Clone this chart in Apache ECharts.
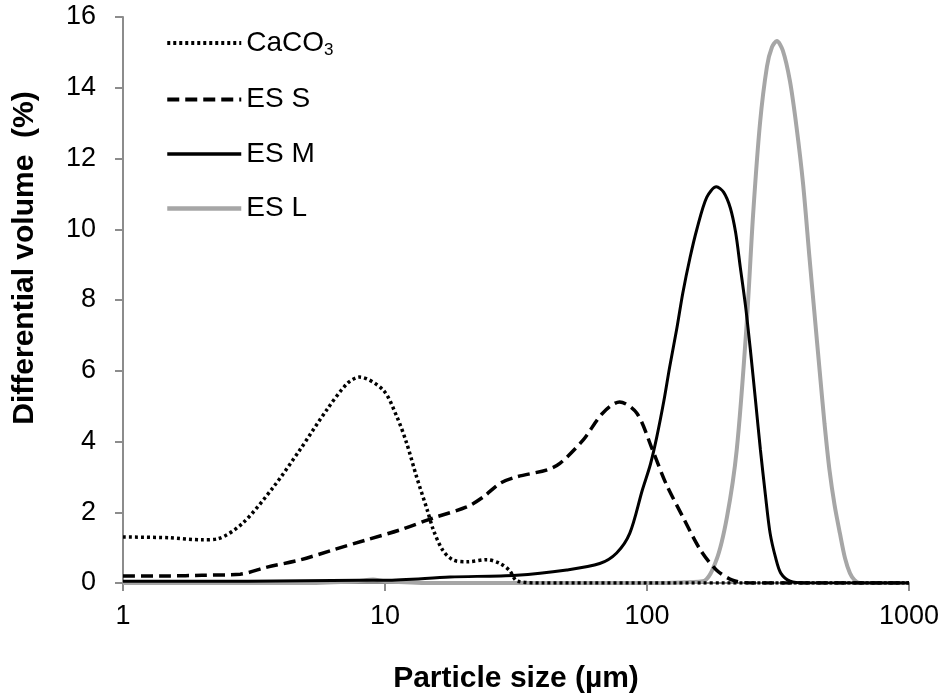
<!DOCTYPE html>
<html>
<head>
<meta charset="utf-8">
<script src="https://cdn.jsdelivr.net/npm/echarts@6/dist/echarts.min.js"></script>
<style>
  html, body { margin: 0; padding: 0; background: #fff; }
  #chart { width: 950px; height: 699px; }
</style>
</head>
<body>
<div id="chart"></div>
<script>
// particle size (µm) and differential volume (%) for each sample
var caco3X = [1, 1.5, 2, 2.3, 2.87, 3.74, 4.73, 6.0, 7.2, 8.0, 9.85, 11.1, 12.1, 13.2, 14.5, 15.3, 16.6, 18.2, 20.6, 24.5, 27.5, 29.9, 32, 40, 60, 100, 200, 500, 1000];
var caco3Y = [1.3, 1.28, 1.22, 1.25, 1.7, 2.7, 3.76, 4.9, 5.65, 5.82, 5.45, 4.7, 3.95, 3.0, 2.06, 1.5, 0.93, 0.65, 0.6, 0.66, 0.55, 0.35, 0.05, 0, 0, 0, 0, 0, 0];

var esSX = [1, 1.5, 2, 2.8, 3.55, 4.73, 6.3, 8.5, 11.4, 15.3, 20.5, 23.7, 27.5, 31.8, 41.6, 46.5, 57, 67.7, 78.6, 91.5, 105, 118, 137, 160, 184, 212, 250, 400, 1000];
var esSY = [0.2, 0.2, 0.22, 0.25, 0.45, 0.65, 0.93, 1.22, 1.5, 1.84, 2.15, 2.43, 2.82, 3.0, 3.2, 3.38, 4.04, 4.8, 5.12, 4.8, 3.76, 2.82, 1.87, 0.93, 0.37, 0.08, 0, 0, 0];

var esMX = [1, 3, 8, 10, 17.7, 31.8, 49.4, 66, 76.6, 86, 96, 103, 109, 116, 122, 130, 137, 146, 155, 169, 184, 196, 208, 218, 227, 238, 248, 260, 271, 283, 295, 310, 324, 352, 400, 1000];
var esMY = [0.05, 0.05, 0.08, 0.08, 0.17, 0.22, 0.37, 0.55, 0.85, 1.41, 2.63, 3.35, 4.13, 5.15, 6.1, 7.2, 8.2, 9.2, 10.0, 10.9, 11.2, 11.05, 10.6, 9.9, 8.93, 7.8, 6.6, 5.1, 3.76, 2.5, 1.41, 0.7, 0.28, 0.05, 0, 0];

var esLX = [1, 5, 7.8, 9, 10, 15, 100, 163, 184, 202, 220, 240, 254, 270, 287, 300, 313, 330, 351, 372, 394, 417, 436, 456, 476, 497, 520, 545, 570, 595, 620, 650, 1000];
var esLY = [0, 0, 0.05, 0.1, 0.05, 0, 0, 0.05, 0.65, 1.87, 3.76, 7.3, 10.4, 13.0, 14.6, 15.15, 15.32, 15.05, 14.2, 12.9, 11.3, 9.2, 7.6, 6.0, 4.5, 3.2, 2.2, 1.4, 0.7, 0.28, 0.08, 0, 0];

var seriesNames = ["CaCO3", "ES S", "ES M", "ES L"];
var yTicks = [0, 2, 4, 6, 8, 10, 12, 14, 16];
var xTicks = [1, 10, 100, 1000];

function pairs(xs, ys) {
  var out = [];
  for (var i = 0; i < xs.length; i++) {
    out.push([xs[i], ys[i]]);
  }
  return out;
}

var chart = echarts.init(document.getElementById("chart"));
var font = "Liberation Sans, Arial, sans-serif";
var axisGray = "#8c8c8c";

function lineSeries(name, xs, ys, style, z) {
  return {
    name: name,
    type: "line",
    smooth: 0.3,
    symbol: "none",
    z: z,
    lineStyle: style,
    itemStyle: { color: style.color },
    data: pairs(xs, ys)
  };
}

var option = {
  backgroundColor: "#fff",
  animation: false,
  grid: { left: 123, right: 41, top: 17, bottom: 116 },
  legend: {
    orient: "vertical",
    left: 160,
    top: 24,
    itemWidth: 74,
    itemHeight: 28,
    itemGap: 26.5,
    data: [
      { name: "CaCO3", lineStyle: { width: 4 } },
      { name: "ES S", lineStyle: { width: 4 } },
      { name: "ES M", lineStyle: { width: 3.5 } },
      { name: "ES L", lineStyle: { width: 4.5 } }
    ],
    itemStyle: { opacity: 0 },
    textStyle: {
      fontFamily: font,
      fontSize: 28,
      color: "#000",
      rich: {
        b: { fontFamily: font, fontSize: 28, color: "#000" },
        s: { fontFamily: font, fontSize: 17, color: "#000", verticalAlign: "bottom", padding: [15, 0, 0, 0] }
      }
    },
    formatter: function (name) {
      if (name === "CaCO3") return "{b|CaCO}{s|3}";
      return name;
    }
  },
  xAxis: {
    type: "log",
    logBase: 10,
    min: 1,
    max: 1000,
    name: "Particle size (µm)",
    nameLocation: "middle",
    nameGap: 81,
    nameTextStyle: { fontFamily: font, fontSize: 30, fontWeight: "bold", color: "#000" },
    axisLine: { lineStyle: { color: axisGray, width: 2 } },
    axisTick: { show: true, length: 8, lineStyle: { color: axisGray, width: 2 } },
    minorTick: { show: false },
    splitLine: { show: false },
    axisLabel: {
      margin: 20,
      fontFamily: font,
      fontSize: 27,
      color: "#000",
      formatter: function (v) {
        var r = Math.round(v);
        return xTicks.indexOf(r) >= 0 ? String(r) : "";
      }
    }
  },
  yAxis: {
    type: "value",
    min: 0,
    max: 16,
    interval: 2,
    name: "Differential volume  (%)",
    nameLocation: "middle",
    nameGap: 83,
    nameTextStyle: {
      fontFamily: font,
      fontSize: 30,
      fontWeight: "bold",
      color: "#000",
      padding: [0, 0, 0, 84]
    },
    axisLine: { show: true, lineStyle: { color: axisGray, width: 2 } },
    axisTick: { show: true, length: 8, lineStyle: { color: axisGray, width: 2 } },
    splitLine: { show: false },
    axisLabel: {
      margin: 27,
      fontFamily: font,
      fontSize: 27,
      color: "#000",
      formatter: function (v) {
        return yTicks.indexOf(v) >= 0 ? String(v) : "";
      }
    }
  },
  series: [
    lineSeries(seriesNames[0], caco3X, caco3Y, { color: "#000", width: 3.5, type: [3, 3] }, 4),
    lineSeries(seriesNames[1], esSX, esSY, { color: "#000", width: 3.5, type: [12, 6] }, 3),
    lineSeries(seriesNames[2], esMX, esMY, { color: "#000", width: 3, type: "solid" }, 3),
    lineSeries(seriesNames[3], esLX, esLY, { color: "#a6a6a6", width: 4, type: "solid" }, 2)
  ]
};

chart.setOption(option);
</script>
</body>
</html>
